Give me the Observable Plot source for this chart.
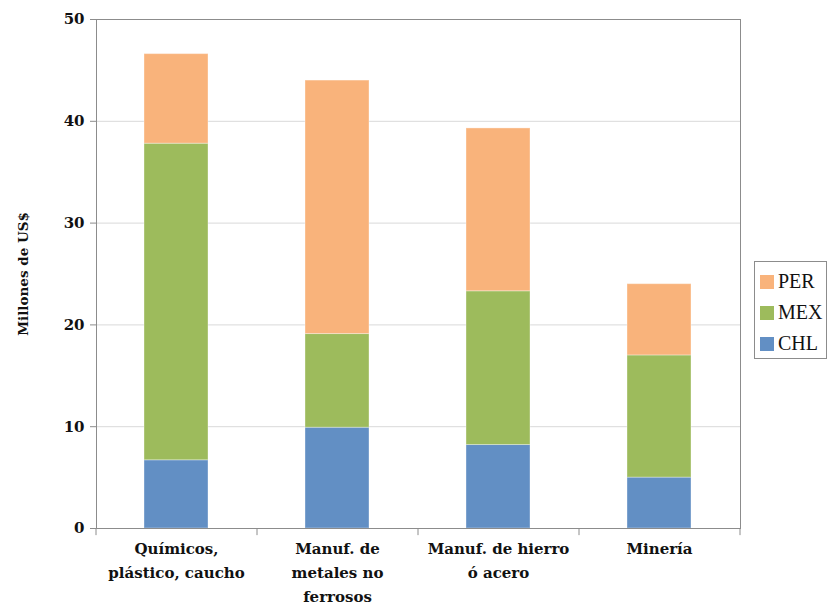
<!DOCTYPE html>
<html><head><meta charset="utf-8">
<script src="https://cdn.jsdelivr.net/npm/d3@7"></script>
<script src="https://cdn.jsdelivr.net/npm/@observablehq/plot@0.6"></script>
<style>
body{margin:0;background:#fff;}
#wrap{position:relative;width:832px;height:608px;}
#wrap svg text{font-family:"DejaVu Serif",serif;}
#legend{position:absolute;left:754px;top:261px;width:73px;height:98px;border:1px solid #8c8c8c;box-sizing:border-box;font-family:"Liberation Serif",serif;font-size:20px;color:#111;padding-top:4px;}
.it{display:flex;align-items:center;height:31px;padding-left:5px;}
.sw{width:14px;height:14px;margin-right:4px;}
</style></head>
<body><div id="wrap"><div id="legend"></div></div>
<script>
const categories = ["Químicos,\nplástico, caucho", "Manuf. de\nmetales no\nferrosos", "Manuf. de hierro\nó acero", "Minería"];
const series = ["CHL", "MEX", "PER"];
const chl = [6.7, 9.9, 8.2, 5.0];
const mex = [31.1, 9.2, 15.1, 12.0];
const per = [8.8, 24.9, 16.0, 7.0];
const colors = ["#628fc4", "#9dbb5c", "#f9b37b"];
const yTicks = [0, 10, 20, 30, 40, 50];

const vals = {CHL: chl, MEX: mex, PER: per};
const data = [];
series.forEach(s => categories.forEach((c, i) => data.push({cat: c, s, v: vals[s][i]})));

const W = 832, H = 608, mL = 96, mR = 92, mT = 19, mB = 80;
const bw = (W - mL - mR) / categories.length;
const font = "DejaVu Serif, serif";

const plot = Plot.plot({
  width: W, height: H,
  marginLeft: mL, marginRight: mR, marginTop: mT, marginBottom: mB,
  style: {fontFamily: font, background: "#fff"},
  x: {domain: categories, paddingInner: 0.6, paddingOuter: 0.3, label: null},
  y: {domain: [0, 50], label: null},
  color: {domain: series, range: colors},
  marks: [
    Plot.ruleY(yTicks.slice(1, -1), {stroke: "#d9d9d9", strokeWidth: 1}),
    Plot.barY(data, Plot.stackY({x: "cat", y: "v", fill: "s", stroke: "#fff", strokeOpacity: 0.35, strokeWidth: 1})),
    Plot.frame({stroke: "#8c8c8c"}),
    Plot.ruleX(categories, {x: d => d, dx: -bw / 2, y1: 0, y2: -0.7, stroke: "#8c8c8c"}),
    Plot.ruleX(categories.slice(-1), {x: d => d, dx: bw / 2, y1: 0, y2: -0.7, stroke: "#8c8c8c"}),
    Plot.axisY({ticks: yTicks, tickSize: 6, stroke: "#8c8c8c", tickPadding: 6, fontSize: 15, fontWeight: "bold", fill: "#111", fontFamily: font,
      label: "Millones de US$", labelAnchor: "center", labelArrow: "none", labelOffset: 78}),
    Plot.axisX({tickSize: 0, tickPadding: 8, fontSize: 15, fontWeight: "bold", fill: "#111", fontFamily: font, lineHeight: 1.6, label: null})
  ]
});
document.getElementById("wrap").prepend(plot);
plot.querySelectorAll("g[aria-label='y-axis label'] text").forEach(t => {t.setAttribute("font-size", "13.5"); t.setAttribute("font-weight", "bold");});

const lg = document.getElementById("legend");
[...series].reverse().forEach(s => {
  const d = document.createElement("div"); d.className = "it";
  d.innerHTML = `<span class="sw" style="background:${colors[series.indexOf(s)]}"></span>${s}`;
  lg.appendChild(d);
});
</script></body></html>
